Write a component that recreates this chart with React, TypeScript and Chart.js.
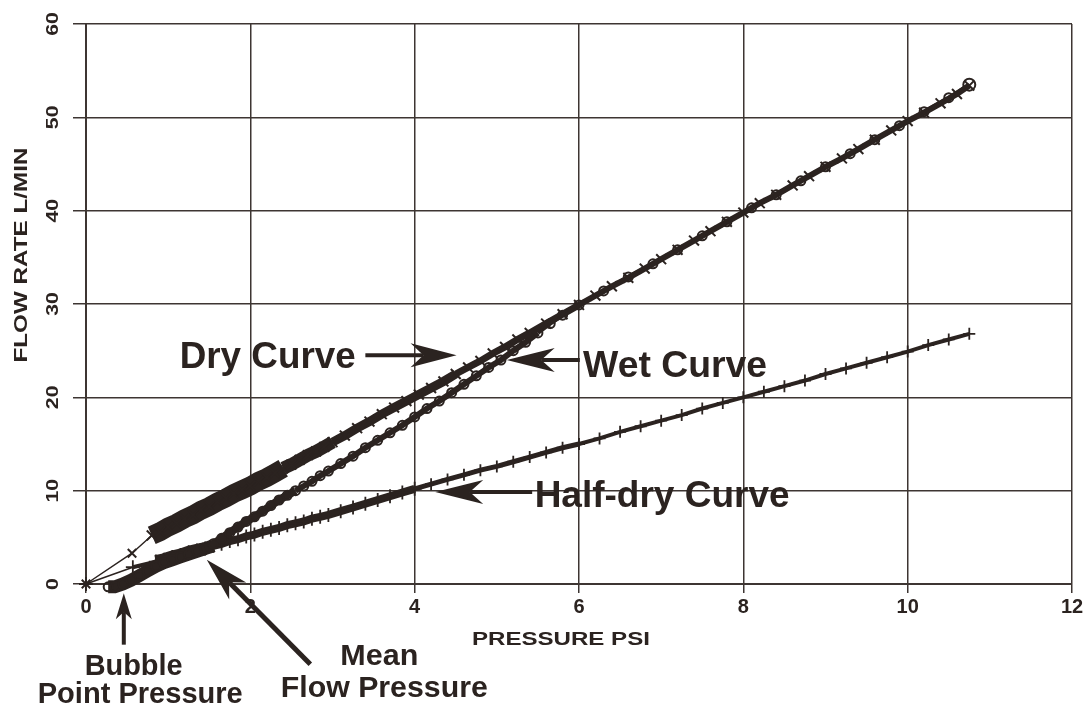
import React, { useEffect, useRef } from "react";
import { Chart, registerables } from "chart.js";

Chart.register(...registerables);

// ---- data (pressure psi, flow rate L/min) ----
const xTickValues = [0, 2, 4, 6, 8, 10, 12];
const yTickValues = [0, 10, 20, 30, 40, 50, 60];
const xAxisTitle = "PRESSURE PSI";
const yAxisTitle = "FLOW RATE L/MIN";

const dryCurve: number[][] = [
  [0, 0], [0.56, 3.3], [0.8, 5.2], [0.9, 5.6], [1.0, 6.1], [1.1, 6.5], [1.2, 7.0], [1.3, 7.4],
  [1.4, 7.9], [1.5, 8.3], [1.6, 8.8], [1.7, 9.2], [1.8, 9.7], [1.9, 10.1], [2.0, 10.5], [2.1, 11.0],
  [2.2, 11.4], [2.3, 11.9], [2.4, 12.4], [2.5, 12.8], [2.6, 13.3], [2.7, 13.8], [2.8, 14.2],
  [2.9, 14.7], [3.0, 15.2], [3.15, 15.9], [3.3, 16.7], [3.45, 17.4], [3.6, 18.2], [3.75, 18.9],
  [3.9, 19.6], [4.05, 20.3], [4.2, 21.0], [4.35, 21.7], [4.5, 22.5], [4.65, 23.2], [4.8, 23.9],
  [4.95, 24.7], [5.1, 25.4], [5.25, 26.2], [5.4, 26.9], [5.6, 27.9], [5.8, 28.9], [6.0, 29.9],
  [6.2, 30.9], [6.4, 31.9], [6.6, 32.8], [6.8, 33.8], [7.0, 34.8], [7.2, 35.8], [7.4, 36.8],
  [7.6, 37.8], [7.8, 38.8], [8.0, 39.8], [8.2, 40.8], [8.4, 41.7], [8.6, 42.7], [8.8, 43.7],
  [9.0, 44.7], [9.2, 45.6], [9.4, 46.6], [9.6, 47.6], [9.8, 48.6], [10.0, 49.6], [10.2, 50.5],
  [10.4, 51.5], [10.6, 52.5], [10.75, 53.4],
];

const wetCurve: number[][] = [
  [0.27, -0.3], [0.35, -0.3], [0.45, 0.0], [0.55, 0.4], [0.65, 0.9], [0.75, 1.4], [0.85, 1.9],
  [0.95, 2.3], [1.05, 2.6], [1.15, 2.9], [1.25, 3.2], [1.35, 3.5], [1.45, 3.8], [1.55, 4.3],
  [1.65, 4.9], [1.75, 5.5], [1.85, 6.1], [1.95, 6.7], [2.05, 7.2], [2.15, 7.8], [2.25, 8.4],
  [2.35, 9.0], [2.45, 9.5], [2.55, 10.0], [2.65, 10.5], [2.75, 11.0], [2.85, 11.6], [2.95, 12.1],
  [3.1, 12.9], [3.25, 13.7], [3.4, 14.6], [3.55, 15.4], [3.7, 16.2], [3.85, 17.0], [4.0, 17.9],
  [4.15, 18.8], [4.3, 19.6], [4.45, 20.5], [4.6, 21.4], [4.75, 22.3], [4.9, 23.2], [5.05, 24.0],
  [5.2, 25.0], [5.35, 25.9], [5.5, 26.9], [5.65, 27.9], [5.8, 28.8], [6.0, 29.9], [6.3, 31.4],
  [6.6, 32.9], [6.9, 34.3], [7.2, 35.8], [7.5, 37.3], [7.8, 38.8], [8.1, 40.3], [8.4, 41.7],
  [8.7, 43.2], [9.0, 44.7], [9.3, 46.1], [9.6, 47.6], [9.9, 49.1], [10.2, 50.6], [10.5, 52.1],
  [10.75, 53.5],
];

const halfDryCurve: number[][] = [
  [0, 0], [0.57, 1.8], [0.85, 2.4], [0.95, 2.6], [1.05, 2.9], [1.15, 3.1], [1.25, 3.4],
  [1.35, 3.6], [1.45, 3.8], [1.55, 4.1], [1.65, 4.3], [1.75, 4.6], [1.85, 4.8], [1.95, 5.1],
  [2.05, 5.3], [2.15, 5.6], [2.25, 5.8], [2.35, 6.0], [2.45, 6.3], [2.55, 6.5], [2.65, 6.7],
  [2.75, 7.0], [2.85, 7.2], [2.95, 7.4], [3.1, 7.8], [3.25, 8.2], [3.4, 8.6], [3.55, 9.0],
  [3.7, 9.4], [3.85, 9.8], [4.0, 10.2], [4.2, 10.7], [4.4, 11.2], [4.6, 11.7], [4.8, 12.2],
  [5.0, 12.6], [5.2, 13.1], [5.4, 13.6], [5.6, 14.1], [5.8, 14.6], [6.0, 15.0], [6.25, 15.6],
  [6.5, 16.3], [6.75, 16.9], [7.0, 17.5], [7.25, 18.1], [7.5, 18.8], [7.75, 19.4], [8.0, 20.0],
  [8.25, 20.6], [8.5, 21.2], [8.75, 21.8], [9.0, 22.5], [9.25, 23.1], [9.5, 23.7], [9.75, 24.3],
  [10.0, 24.9], [10.25, 25.6], [10.5, 26.2], [10.75, 26.8],
];

// ---- look ----
const INK = "#2b2320";
const GRID = "#3d3532";
const FONT = "'Liberation Sans', Arial, sans-serif";

type TextNote = { text: string; x: number; y: number; size: number; width: number; align: CanvasTextAlign };
type ArrowNote = { x1: number; y1: number; x2: number; y2: number; shaft: number; head: number; half: number };

// annotation anchors in data coordinates
const textNotes: TextNote[] = [
  { text: "Dry Curve", x: 1.14, y: 23.1, size: 37, width: 176, align: "left" },
  { text: "Wet Curve", x: 6.05, y: 22.2, size: 37, width: 184, align: "left" },
  { text: "Half-dry Curve", x: 5.46, y: 8.25, size: 37, width: 255, align: "left" },
  { text: "Bubble", x: 0.58, y: -9.75, size: 29, width: 98, align: "center" },
  { text: "Point Pressure", x: 0.66, y: -12.75, size: 29, width: 205, align: "center" },
  { text: "Mean", x: 3.57, y: -8.68, size: 29, width: 78, align: "center" },
  { text: "Flow Pressure", x: 3.63, y: -12.1, size: 29, width: 207, align: "center" },
];

const arrowNotes: ArrowNote[] = [
  { x1: 3.4, y1: 24.5, x2: 4.51, y2: 24.5, shaft: 4, head: 46, half: 12 },
  { x1: 6.01, y1: 24.0, x2: 5.12, y2: 24.0, shaft: 4, head: 48, half: 12 },
  { x1: 5.43, y1: 9.86, x2: 4.25, y2: 9.86, shaft: 4, head: 48, half: 12 },
  { x1: 0.46, y1: -6.5, x2: 0.46, y2: -1.0, shaft: 4, head: 26, half: 8 },
  { x1: 2.73, y1: -8.6, x2: 1.47, y2: 2.6, shaft: 5, head: 44, half: 12 },
];

function drawStretched(ctx: CanvasRenderingContext2D, text: string, x: number, y: number, size: number, width: number, align: CanvasTextAlign) {
  ctx.font = `bold ${size}px ${FONT}`;
  const m = ctx.measureText(text).width;
  const sx = width && m ? width / m : 1;
  ctx.save();
  ctx.translate(x, y);
  ctx.scale(sx, 1);
  ctx.textAlign = align;
  ctx.textBaseline = "alphabetic";
  ctx.fillText(text, 0, 0);
  ctx.restore();
}

function drawArrow(ctx: CanvasRenderingContext2D, x1: number, y1: number, x2: number, y2: number, shaft: number, head: number, half: number) {
  const ang = Math.atan2(y2 - y1, x2 - x1);
  const ux = Math.cos(ang), uy = Math.sin(ang);
  const px = -uy, py = ux;
  const notchX = x2 - ux * head * 0.72, notchY = y2 - uy * head * 0.72;
  ctx.lineWidth = shaft;
  ctx.lineCap = "butt";
  ctx.beginPath();
  ctx.moveTo(x1, y1);
  ctx.lineTo(notchX, notchY);
  ctx.stroke();
  ctx.beginPath();
  ctx.moveTo(x2, y2);
  ctx.lineTo(x2 - ux * head + px * half, y2 - uy * head + py * half);
  ctx.lineTo(notchX, notchY);
  ctx.lineTo(x2 - ux * head - px * half, y2 - uy * head - py * half);
  ctx.closePath();
  ctx.fill();
}

const notesPlugin = {
  id: "notes",
  afterDraw(chart: any) {
    const { ctx, scales, chartArea } = chart;
    const xs = scales.x, ys = scales.y;
    ctx.save();
    ctx.fillStyle = INK;
    ctx.strokeStyle = INK;

    // rotated y tick labels
    ctx.font = `bold 17px ${FONT}`;
    for (const t of ys.ticks) {
      const py = ys.getPixelForValue(t.value);
      ctx.save();
      ctx.translate(chartArea.left - 33, py);
      ctx.rotate(-Math.PI / 2);
      ctx.scale(1.25, 1);
      ctx.textAlign = "center";
      ctx.textBaseline = "middle";
      ctx.fillText(String(t.value), 0, 0);
      ctx.restore();
    }

    // axis titles
    drawStretched(ctx, xAxisTitle, xs.getPixelForValue(5.78), chartArea.bottom + 61, 18, 178, "center");
    ctx.save();
    ctx.translate(chartArea.left - 64, ys.getPixelForValue(35.25));
    ctx.rotate(-Math.PI / 2);
    ctx.font = `bold 19px ${FONT}`;
    const m = ctx.measureText(yAxisTitle).width;
    ctx.scale(215 / m, 1);
    ctx.textAlign = "center";
    ctx.textBaseline = "middle";
    ctx.fillText(yAxisTitle, 0, 0);
    ctx.restore();

    for (const n of textNotes) {
      drawStretched(ctx, n.text, xs.getPixelForValue(n.x), ys.getPixelForValue(n.y), n.size, n.width, n.align);
    }
    for (const a of arrowNotes) {
      drawArrow(ctx, xs.getPixelForValue(a.x1), ys.getPixelForValue(a.y1), xs.getPixelForValue(a.x2), ys.getPixelForValue(a.y2), a.shaft, a.head, a.half);
    }
    ctx.restore();
  },
};

const toPoints = (arr: number[][]) => arr.map(([x, y]) => ({ x, y }));

const segWidth = (bands: number[][], fallback: number) => (ctx: any) => {
  const a = ctx.p0.parsed.x, b = ctx.p1.parsed.x;
  for (const [lo, hi, w] of bands) {
    if (a >= lo && b <= hi) return w;
  }
  return fallback;
};

export default function App() {
  const ref = useRef<HTMLCanvasElement | null>(null);

  useEffect(() => {
    if (!ref.current) return;
    const chart = new Chart(ref.current, {
      type: "scatter",
      data: {
        datasets: [
          {
            label: "Dry Curve",
            data: toPoints(dryCurve),
            showLine: true,
            borderColor: INK,
            backgroundColor: INK,
            borderWidth: 5,
            pointStyle: "crossRot",
            pointRadius: (c: any) => (c.dataIndex < 2 ? 6 : 7),
            pointBorderWidth: 2,
            clip: 10,
            segment: { borderWidth: segWidth([[0, 0.8, 1.5], [0.7, 2.45, 19], [2.3, 3.05, 13], [2.9, 4.6, 9], [4.5, 6.1, 7]], 6) },
          },
          {
            label: "Wet Curve",
            data: toPoints(wetCurve),
            showLine: true,
            borderColor: INK,
            backgroundColor: "rgba(255,255,255,0)",
            borderWidth: 3,
            pointStyle: "circle",
            pointRadius: (c: any) => (c.dataIndex === wetCurve.length - 1 ? 6 : 4.5),
            pointBorderWidth: 2,
            clip: 10,
            segment: { borderWidth: segWidth([[0.2, 1.5, 13], [1.4, 2.6, 8], [2.5, 5.6, 6]], 4) },
          },
          {
            label: "Half-dry Curve",
            data: toPoints(halfDryCurve),
            showLine: true,
            borderColor: INK,
            backgroundColor: INK,
            borderWidth: 3,
            pointStyle: "cross",
            pointRadius: (c: any) => (c.parsed.x > 4 ? 6 : 7),
            pointBorderWidth: 1.8,
            clip: 10,
            segment: { borderWidth: segWidth([[0, 0.6, 1.5], [0.8, 1.6, 13], [1.5, 4.05, 8], [4.0, 6.1, 5]], 4) },
          },
        ],
      },
      options: {
        responsive: false,
        animation: false,
        devicePixelRatio: 1,
        layout: { padding: { top: 24, right: 14, left: 0, bottom: 0 } },
        plugins: { legend: { display: false }, tooltip: { enabled: false }, title: { display: false } },
        scales: {
          x: {
            type: "linear",
            min: 0,
            max: 12,
            afterBuildTicks: (s: any) => {
              s.ticks = xTickValues.map((v) => ({ value: v }));
            },
            afterFit: (s: any) => {
              s.height = 126;
            },
            grid: { color: GRID, lineWidth: 1.5, tickLength: 9, tickColor: GRID },
            border: { color: GRID, width: 2 },
            ticks: {
              color: INK,
              padding: 2,
              maxRotation: 0,
              font: { family: FONT, size: 20, weight: "bold" },
            },
          },
          y: {
            type: "linear",
            min: 0,
            max: 60,
            afterBuildTicks: (s: any) => {
              s.ticks = yTickValues.map((v) => ({ value: v }));
            },
            afterFit: (s: any) => {
              s.width = 86;
            },
            grid: { color: GRID, lineWidth: 1.5, tickLength: 13, tickColor: GRID },
            border: { color: GRID, width: 2 },
            ticks: { display: false },
          },
        },
      },
      plugins: [notesPlugin],
    } as any);
    return () => chart.destroy();
  }, []);

  return (
    <div style={{ position: "fixed", left: 0, top: 0, width: 1086, height: 710, background: "#fff" }}>
      <canvas ref={ref} width={1086} height={710} style={{ display: "block" }} />
    </div>
  );
}
